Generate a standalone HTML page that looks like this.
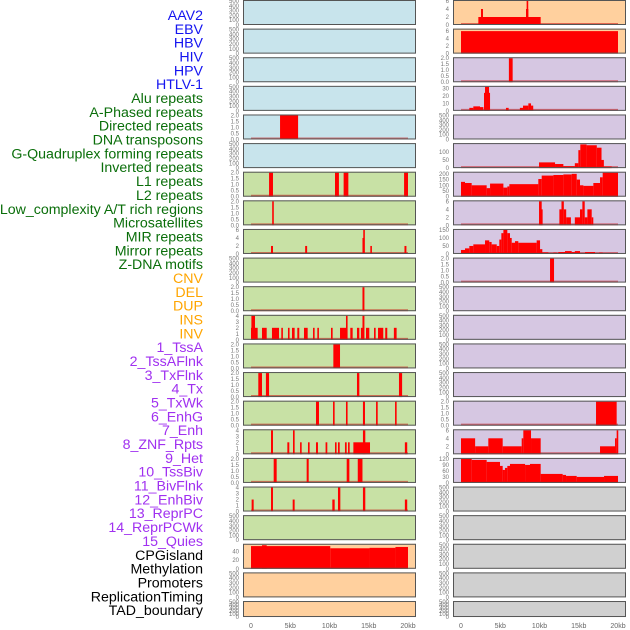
<!DOCTYPE html>
<html><head><meta charset="utf-8"><style>
html,body{margin:0;padding:0;background:#fff;}
svg{display:block;font-family:"Liberation Sans",sans-serif;}
</style></head><body>
<svg id="chart" width="630" height="630" viewBox="0 0 630 630"></svg>
<script>
// ---- data ----
const trackLabels = ["AAV2","EBV","HBV","HIV","HPV","HTLV-1","Alu repeats","A-Phased repeats","Directed repeats","DNA transposons","G-Quadruplex forming repeats","Inverted repeats","L1 repeats","L2 repeats","Low_complexity A/T rich regions","Microsatellites","MIR repeats","Mirror repeats","Z-DNA motifs","CNV","DEL","DUP","INS","INV","1_TssA","2_TssAFlnk","3_TxFlnk","4_Tx","5_TxWk","6_EnhG","7_Enh","8_ZNF_Rpts","9_Het","10_TssBiv","11_BivFlnk","12_EnhBiv","13_ReprPC","14_ReprPCWk","15_Quies","CPGisland","Methylation","Promoters","ReplicationTiming","TAD_boundary"];
const labelGroups = [6,13,5,15,5];
const xTickValues = [0,5,10,15,20];
const xTickLabels = ["0","5kb","10kb","15kb","20kb"];
const emptyTicks = [0,100,200,300,400,500];
const ticks2 = [0,0.5,1,1.5,2];
const ticks4 = [0,1,2,3,4];
const ticks6 = [0,2,4,6];

// left column segments [startKb, endKb, value]
const segL4 = [[3.7,6.0,2]];
const segL6 = [[2.3,2.8,2],[10.7,11.2,2],[11.8,12.4,2],[19.5,20,2]];
const segL7 = [[2.7,2.9,2]];
const segL8 = [[2.55,2.8,2],[6.9,7.15,2],[14.2,14.45,4],[14.3,14.4,6],[15.2,15.4,2],[19.55,19.8,2]];
const segL10 = [[14.2,14.45,2]];
const segL11 = [[0,0.85,2],[0.05,0.51,4],[1.4,2.0,2],[2.67,3.57,2],[3.86,4.03,2],[4.71,4.88,2],[5.22,5.56,2],[5.9,6.15,2],[6.75,7.22,2],[7.9,8.1,2],[8.45,8.62,2],[10.19,10.4,2],[11.34,12.27,2],[12.1,12.3,4],[12.65,12.95,2],[13.5,13.8,2],[14.0,14.4,2],[14.2,14.45,4],[14.65,15.07,2],[15.67,15.88,2],[16.18,16.85,2],[17.1,17.36,2],[18.2,18.55,2]];
const segL12 = [[10.49,11.34,2]];
const segL13 = [[0.93,1.4,2],[1.9,2.3,2],[13.5,13.8,2],[18.85,19.25,2]];
const segL14 = [[8.28,8.66,2],[10.45,10.65,2],[12.1,12.3,2],[14.26,14.52,2],[15.93,16.14,2],[18.35,18.55,2]];
const segL15 = [[2.55,2.8,4],[4.63,4.88,2],[5.35,5.56,4],[6.25,6.45,2],[7.26,7.47,2],[8.28,8.53,2],[9.5,9.72,2],[10.7,10.9,2],[11.08,11.3,2],[11.97,12.19,2],[12.36,12.57,2],[13.04,15.16,2],[14.26,14.56,4],[19.6,19.9,2]];
const segL16 = [[2.89,3.27,2],[7.09,7.35,2],[12.19,12.53,2],[13.6,14.2,2]];
const segL17 = [[0.08,0.34,2],[2.55,2.8,4],[5.31,5.56,2],[10.36,10.66,2],[11.08,11.38,4],[14.26,14.56,4],[19.6,19.9,2]];
const segL19 = [[0,10.1,52],[1.4,2.0,54],[10.1,15.1,47],[15.1,18.4,48],[18.4,20,50]];
// right column
const segR0 = [[2.21,10.15,2],[2.55,2.8,4],[8.28,8.58,4],[8.36,8.5,6]];
const segR1 = [[0,20,6]];
const segR2 = [[6.1,6.58,2]];
const segR3 = [[1.06,1.57,4],[1.57,2.42,6],[2.42,2.85,5],[2.93,3.7,24],[3.06,3.57,32],[5.73,6.07,4],[7.5,7.9,4],[7.9,8.58,7],[8.58,8.92,10],[8.92,9.2,7]];
const segR5 = [[9.94,11.98,35],[11.98,13.04,25],[13.04,14.5,12],[14.5,14.95,30],[14.95,15.2,110],[15.2,16.0,145],[16.0,17.3,140],[17.3,17.9,125],[17.9,18.2,50],[18.2,19.2,10]];
const segR6 = [[0,0.51,130],[0.51,1.36,120],[1.36,3.27,100],[3.27,3.7,75],[3.7,5.4,115],[5.4,5.9,80],[5.9,6.16,90],[6.16,9.85,110],[9.85,10.28,155],[10.28,11.77,185],[11.77,13.04,190],[13.04,14.1,195],[14.1,14.74,200],[14.74,15.16,150],[15.16,15.59,100],[15.59,16.86,95],[16.86,17.71,120],[17.71,18.05,170],[18.05,20,210]];
const segR7 = [[9.94,10.28,6],[10.15,10.4,4],[12.53,12.8,4],[12.8,13.1,6],[13.1,13.4,4],[13.4,14.0,2],[14.5,15.16,2],[15.16,15.46,4],[15.46,15.76,6],[15.76,16.1,2],[16.1,16.65,4],[16.65,16.8,2]];
const segR8 = [[0,0.51,25],[0.51,1.06,35],[1.06,1.57,50],[1.57,3.06,60],[3.06,3.6,85],[3.6,3.9,75],[3.9,4.55,60],[4.55,4.88,50],[4.88,5.14,90],[5.14,5.4,130],[5.4,5.9,150],[5.9,6.24,130],[6.24,6.46,100],[6.46,6.88,70],[6.88,7.3,80],[7.3,9.64,70],[9.64,10.07,85],[10.07,10.36,30],[10.36,10.7,10],[10.7,11.13,10],[11.77,12.2,8],[12.4,13.25,12],[13.25,14.1,18],[14.1,14.5,12],[14.5,15.16,18],[15.8,17.07,12],[17.58,18.05,8]];
const segR9 = [[11.34,11.85,2]];
const segR14 = [[17.2,19.83,2]];
const segR15 = [[0,1.8,4],[1.8,3.48,2],[3.48,5.31,4],[5.31,7.73,2],[7.73,7.94,4],[7.94,8.92,6],[8.92,10.15,4],[17.71,19.62,2],[19.62,19.83,4],[19.83,20,6]];
const segR16 = [[0,1.36,120],[1.36,3.27,115],[3.27,4.97,105],[4.97,5.31,85],[5.31,5.6,65],[5.6,5.9,75],[5.9,6.24,85],[6.24,8.16,95],[8.16,8.79,90],[8.79,10.15,95],[10.15,12.95,45],[12.95,13.38,40],[13.38,14.74,35],[14.74,18.22,30],[18.22,20,35]];

const BLUE="#c8e4ec", GREEN="#c8e1a5", ORANGE="#ffd09e", PURPLE="#d6c7e2", GREY="#d0d0d0";
// panels: [col,row,bg,ymax,ticks,segs,baseline]
const panels = [
 [0,0,BLUE,500,emptyTicks,[],false],[0,1,BLUE,500,emptyTicks,[],false],[0,2,BLUE,500,emptyTicks,[],false],[0,3,BLUE,500,emptyTicks,[],false],
 [0,4,BLUE,2,ticks2,segL4,true],[0,5,BLUE,500,emptyTicks,[],false],
 [0,6,GREEN,2,ticks2,segL6,true],[0,7,GREEN,2,ticks2,segL7,true],[0,8,GREEN,6,ticks6,segL8,true],[0,9,GREEN,500,emptyTicks,[],false],
 [0,10,GREEN,2,ticks2,segL10,true],[0,11,GREEN,4,ticks4,segL11,true],[0,12,GREEN,2,ticks2,segL12,true],[0,13,GREEN,2,ticks2,segL13,true],
 [0,14,GREEN,2,ticks2,segL14,true],[0,15,GREEN,4,ticks4,segL15,true],[0,16,GREEN,2,ticks2,segL16,true],[0,17,GREEN,4,ticks4,segL17,true],
 [0,18,GREEN,500,emptyTicks,[],false],[0,19,ORANGE,55,[0,20,40],segL19,true],[0,20,ORANGE,500,emptyTicks,[],false],[0,21,ORANGE,500,emptyTicks,[],false],
 [1,0,ORANGE,6,ticks6,segR0,true],[1,1,ORANGE,6.4,ticks6,segR1,true],[1,2,PURPLE,2,ticks2,segR2,true],[1,3,PURPLE,32,[0,10,20,30],segR3,true],
 [1,4,PURPLE,500,emptyTicks,[],false],[1,5,PURPLE,147,[0,50,100],segR5,true],[1,6,PURPLE,210,[0,50,100,150,200],segR6,true],
 [1,7,PURPLE,6,ticks6,segR7,true],[1,8,PURPLE,150,[0,50,100,150],segR8,true],[1,9,PURPLE,2,ticks2,segR9,true],
 [1,10,PURPLE,500,emptyTicks,[],false],[1,11,PURPLE,500,emptyTicks,[],false],[1,12,PURPLE,500,emptyTicks,[],false],[1,13,PURPLE,500,emptyTicks,[],false],
 [1,14,PURPLE,2,ticks2,segR14,true],[1,15,PURPLE,6,ticks6,segR15,true],[1,16,PURPLE,120,[0,30,60,90,120],segR16,true],
 [1,17,GREY,500,emptyTicks,[],false],[1,18,GREY,500,emptyTicks,[],false],[1,19,GREY,500,emptyTicks,[],false],[1,20,GREY,500,emptyTicks,[],false],[1,21,GREY,500,emptyTicks,[],false]
];

// ---- render ----
const NS="http://www.w3.org/2000/svg";
const svg=document.getElementById('chart');
function mk(tag,attrs,parent){const e=document.createElementNS(NS,tag);for(const k in attrs)e.setAttribute(k,attrs[k]);(parent||svg).appendChild(e);return e;}
const colLeft=[243,453], panelW=173, pitch=28.62;
function rowTop(r){return r*pitch;}
function rowH(r){return r===21?16:25;}
function xScale(col,kb){return colLeft[col]+8+kb*7.85;}

// labels
const groupColors=["#1414f0","#0a6e0a","#ffa500","#a030f0","#000000"];
let li=0;
labelGroups.forEach((n,g)=>{for(let j=0;j<n;j++){
  const t=mk('text',{x:203,y:15+li*13.84+5,'text-anchor':'end','font-size':'14.2',fill:groupColors[g]});
  t.textContent=trackLabels[li];
  
  
  li++;
}});

panels.forEach((p,i)=>{
  const [col,row,bg,ymax,ticks,segs,base]=p;
  const top=rowTop(row), h=rowH(row), x0=colLeft[col];
  const g=mk('g',{});
  
  
  mk('rect',{x:x0,y:top,width:panelW,height:h,fill:bg},g);
  const ys=v=>top+h-(v/ymax)*(h-1);
  if(base){
    const bl=mk('line',{x1:xScale(col,0),x2:xScale(col,20),y1:top+h-1,y2:top+h-1,stroke:'rgba(200,0,0,0.5)','stroke-width':2},g);
    
    
  }
  segs.forEach(s=>{
    const xa=xScale(col,s[0]), xb=xScale(col,s[1]);
    const y=ys(s[2]);
    const r=mk('rect',{x:xa,y:y,width:Math.max(1.6,xb-xa),height:top+h-y,fill:'#ff0000'},g);
    
    
  });
  mk('rect',{x:x0+0.5,y:top+0.5,width:panelW-1,height:h-1,fill:'none',stroke:'#555','stroke-width':1},g);
  ticks.forEach(tv=>{
    const t=mk('text',{x:x0-4,y:ys(tv)+2,'text-anchor':'end','font-size':'6',fill:'#777'},g);
    t.textContent=String(tv===0&&ticks===ticks2?'0.0':(ticks===ticks2?tv.toFixed(1):tv));
    
    
  });
});

[0,1].forEach(col=>{
  xTickValues.forEach((v,i)=>{
    const t=mk('text',{x:xScale(col,v),y:628,'text-anchor':'middle','font-size':'7',fill:'#666'});
    t.textContent=xTickLabels[i];
    
    
  });
});
</script>
</body></html>
